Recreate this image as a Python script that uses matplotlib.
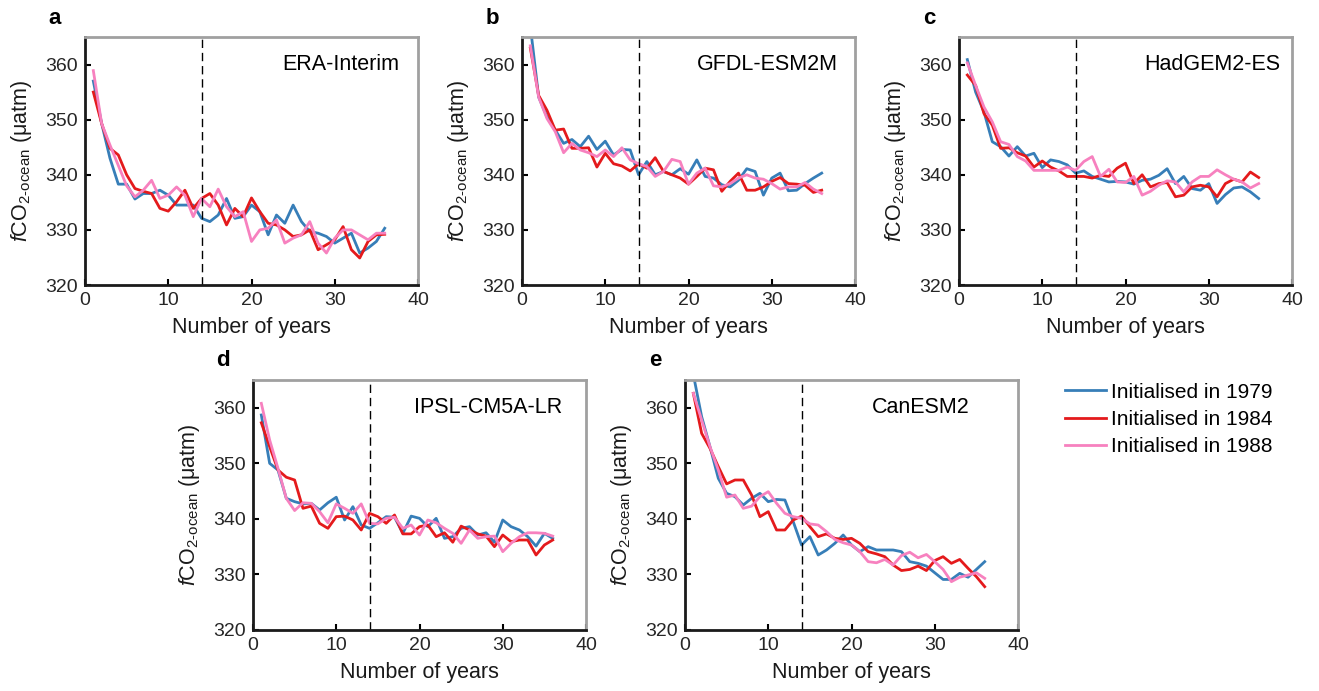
import numpy as np
import matplotlib
matplotlib.use('Agg')
import matplotlib.pyplot as plt

plt.rcParams['font.family'] = ['Liberation Sans', 'DejaVu Sans']
plt.rcParams['mathtext.fontset'] = 'custom'
plt.rcParams['mathtext.rm'] = 'Liberation Sans'
plt.rcParams['mathtext.it'] = 'Liberation Sans:italic'
plt.rcParams['mathtext.default'] = 'regular'

years = np.arange(1, 37)
labels = ['Initialised in 1979', 'Initialised in 1984', 'Initialised in 1988']
models = ['ERA-Interim', 'GFDL-ESM2M', 'HadGEM2-ES', 'IPSL-CM5A-LR', 'CanESM2']
letters = ['a', 'b', 'c', 'd', 'e']

# ERA-Interim
era_1979 = [357.0, 349.3, 343.0, 338.3, 338.3, 335.6, 336.6, 336.6, 337.2, 336.3, 334.5, 334.5,
            334.5, 332.1, 331.5, 332.7, 335.7, 332.1, 332.4, 334.5, 333.3, 329.1, 332.7, 331.2,
            334.5, 331.5, 329.7, 329.4, 328.8, 327.6, 328.5, 329.4, 325.8, 326.7, 327.9, 330.3]
era_1984 = [355.0, 349.3, 344.8, 343.6, 340.0, 337.5, 337.0, 336.6, 333.9, 333.4, 335.1, 337.2,
            333.9, 335.7, 336.6, 334.5, 330.9, 333.9, 332.4, 335.8, 333.3, 331.2, 330.9, 330.0,
            328.8, 329.1, 330.0, 326.4, 327.3, 328.2, 330.6, 326.4, 324.9, 327.9, 329.1, 329.2]
era_1988 = [358.9, 349.3, 345.4, 341.7, 338.0, 336.0, 337.2, 339.0, 335.7, 336.3, 337.8, 336.3,
            332.4, 335.7, 334.2, 337.4, 334.2, 332.4, 333.3, 327.9, 330.0, 330.3, 331.8, 327.6,
            328.5, 329.1, 331.5, 327.6, 325.8, 328.5, 330.0, 330.0, 329.1, 328.2, 329.4, 329.4]

# GFDL-ESM2M
gfdl_1979 = [367.0, 354.1, 350.5, 348.1, 345.7, 346.4, 345.1, 347.0, 344.6, 346.1, 343.6, 344.6,
             344.5, 340.0, 342.4, 340.0, 340.6, 340.0, 341.1, 340.1, 342.7, 339.7, 339.4, 338.2,
             337.8, 339.0, 341.1, 340.6, 336.3, 339.4, 340.3, 337.1, 337.2, 338.4, 339.4, 340.3]
gfdl_1984 = [363.0, 354.4, 351.7, 348.1, 348.3, 344.8, 344.8, 344.9, 341.4, 343.9, 342.0, 341.6,
             340.7, 342.0, 341.2, 343.1, 340.6, 340.0, 339.4, 338.3, 339.7, 341.2, 340.9, 337.0,
             338.8, 340.3, 337.2, 337.2, 337.8, 338.8, 339.5, 338.4, 338.3, 338.1, 336.8, 337.2]
gfdl_1988 = [363.4, 354.1, 350.2, 347.8, 344.0, 345.7, 344.5, 344.0, 343.3, 344.5, 343.3, 344.9,
             342.7, 342.0, 341.5, 339.7, 340.6, 342.8, 342.4, 338.3, 340.3, 341.2, 338.0, 337.8,
             338.4, 339.4, 340.0, 339.4, 339.2, 338.4, 337.4, 337.8, 337.8, 338.6, 337.4, 336.6]

# HadGEM2-ES
had_1979 = [360.9, 355.0, 351.4, 346.0, 345.1, 343.4, 345.1, 343.4, 343.9, 341.3, 342.7, 342.4,
            341.8, 340.3, 340.7, 339.7, 339.2, 338.7, 338.8, 338.7, 338.3, 339.0, 339.2, 339.9,
            341.1, 338.4, 339.7, 337.5, 337.2, 338.4, 334.8, 336.4, 337.6, 337.8, 336.9, 335.7]
had_1984 = [358.1, 356.2, 351.1, 349.0, 344.8, 344.9, 344.0, 343.4, 341.4, 342.5, 341.4, 340.7,
            339.7, 339.7, 339.7, 339.4, 339.9, 339.7, 341.2, 342.1, 338.4, 340.0, 337.8, 338.4,
            338.6, 336.0, 336.3, 337.8, 338.1, 337.8, 336.0, 338.4, 339.2, 338.7, 340.5, 339.5]
had_1988 = [360.3, 356.2, 352.3, 349.6, 346.0, 345.5, 343.3, 342.5, 340.8, 340.8, 340.8, 340.8,
            341.4, 340.8, 342.4, 343.3, 339.7, 341.0, 338.7, 338.6, 339.7, 336.3, 337.0, 338.1,
            338.9, 338.7, 336.9, 338.7, 339.7, 339.7, 340.9, 340.0, 339.2, 338.7, 337.6, 338.4]

# IPSL-CM5A-LR
ipsl_1979 = [358.7, 350.0, 348.8, 343.7, 343.1, 342.7, 342.8, 341.6, 342.9, 343.9, 339.8, 342.2,
             338.9, 338.3, 339.3, 340.4, 340.3, 337.4, 340.5, 340.1, 338.6, 340.1, 336.5, 336.8,
             338.3, 338.6, 337.1, 337.5, 335.8, 339.8, 338.6, 338.0, 336.8, 335.1, 337.4, 336.5]
ipsl_1984 = [357.3, 353.0, 348.8, 347.5, 347.0, 341.9, 342.3, 339.2, 338.3, 340.4, 340.5, 339.8,
             338.0, 341.0, 340.4, 339.2, 340.7, 337.3, 337.3, 338.6, 338.9, 336.8, 337.5, 335.8,
             338.7, 338.0, 337.3, 336.9, 335.0, 337.1, 335.9, 336.2, 336.2, 333.5, 335.3, 336.2]
ipsl_1988 = [360.8, 354.2, 349.1, 343.7, 341.5, 342.9, 342.8, 341.3, 339.3, 342.7, 341.9, 341.0,
             342.7, 339.2, 339.1, 340.1, 340.3, 338.3, 338.9, 337.1, 339.8, 339.3, 338.3, 337.4,
             335.6, 338.0, 336.5, 336.8, 336.9, 334.1, 335.6, 336.8, 337.5, 337.5, 337.4, 336.9]

# CanESM2
can_1979 = [366.0, 358.4, 353.0, 347.3, 344.6, 344.0, 342.5, 343.7, 344.6, 343.1, 343.5, 343.4,
            339.5, 335.3, 336.8, 333.5, 334.4, 335.6, 337.1, 335.3, 334.1, 335.0, 334.4, 334.4,
            334.4, 334.1, 332.3, 332.0, 331.5, 330.3, 329.1, 329.1, 330.2, 329.5, 330.9, 332.3]
can_1984 = [362.6, 355.4, 352.7, 349.4, 346.3, 347.0, 347.0, 344.3, 340.4, 341.3, 338.0, 338.0,
            339.8, 340.5, 338.6, 336.8, 337.3, 336.5, 336.3, 336.5, 335.6, 334.1, 333.7, 333.2,
            331.7, 330.7, 330.9, 331.5, 330.7, 332.5, 333.2, 332.0, 332.7, 331.1, 329.6, 327.8]
can_1988 = [362.6, 357.8, 353.0, 348.8, 343.9, 344.3, 341.9, 342.3, 344.0, 344.9, 342.8, 341.0,
            340.4, 340.1, 339.1, 338.9, 337.7, 336.3, 335.7, 335.3, 334.1, 332.3, 332.1, 332.7,
            331.7, 333.4, 334.0, 333.0, 333.6, 332.3, 330.9, 328.7, 329.5, 329.9, 330.3, 329.3]

data = [
    [era_1979, era_1984, era_1988],
    [gfdl_1979, gfdl_1984, gfdl_1988],
    [had_1979, had_1984, had_1988],
    [ipsl_1979, ipsl_1984, ipsl_1988],
    [can_1979, can_1984, can_1988],
]

colors = ['#377eb8', '#e41a1c', '#f781bf']

W, H = 1319, 691
fig = plt.figure(figsize=(W / 100, H / 100), dpi=100)

# axes boxes in pixels: left, top, right, bottom
boxes = [(85, 37, 418, 285), (522, 37, 855, 285), (959, 37, 1292, 285),
         (253, 380, 586, 630), (685, 380, 1018, 630)]
text_x = [37.8, 38.0, 38.6, 37.2, 34.2]

lines = []
for i, (l, t, r, b) in enumerate(boxes):
    ax = fig.add_axes([l / W, 1 - b / H, (r - l) / W, (b - t) / H])
    for k in range(3):
        ln, = ax.plot(years, data[i][k], color=colors[k], lw=2.0)
        if i == 0:
            lines.append(ln)
    ax.axvline(14, color='k', ls=(0, (6, 3.5)), lw=1.0)
    ax.set_xlim(0, 40)
    ax.set_ylim(320, 365)
    ax.set_xticks([0, 10, 20, 30, 40])
    ax.set_yticks([320, 330, 340, 350, 360])
    ax.tick_params(direction='in', length=4, width=1.5, labelsize=14, labelcolor='#262626',
                   top=False, right=False, pad=5)
    for s in ['left', 'bottom']:
        ax.spines[s].set_linewidth(2.0)
        ax.spines[s].set_color('#1a1a1a')
    for s in ['top', 'right']:
        ax.spines[s].set_linewidth(2.0)
        ax.spines[s].set_color('#a0a0a0')
    ax.set_xlabel('Number of years', fontsize=15.5, labelpad=6, color='#1a1a1a')
    ax.set_ylabel(r'$\mathit{f}$CO$_{2\text{-}ocean}$ ($\mu$atm)', fontsize=15.5, labelpad=8,
                  color='#1a1a1a')
    ax.text(text_x[i], 360, models[i], ha='right', va='center', fontsize=15.5)
    fig.text((l - 30) / W, 1 - (t - 19) / H, letters[i], fontsize=16, fontweight='bold',
             ha='center', va='center')

fig.legend(lines, labels, loc='upper left', bbox_to_anchor=(1046 / W, 1 - 364 / H),
           frameon=False, fontsize=15, handlelength=2.0, handletextpad=0.2, labelspacing=0.4)

fig.savefig('out.png', dpi=100)
